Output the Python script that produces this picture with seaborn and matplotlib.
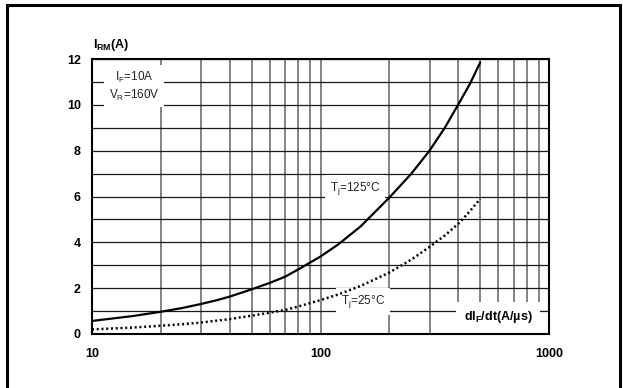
import matplotlib
matplotlib.use("Agg")
import matplotlib.pyplot as plt
import seaborn as sns
from matplotlib.patches import Rectangle
from matplotlib.ticker import FixedLocator, NullFormatter, MultipleLocator

# Reverse recovery current vs. dIF/dt
di_dt = [10, 15, 20, 25, 30, 35, 40, 50, 60, 70, 80, 100, 120, 150, 200,
         250, 300, 350, 400, 450, 500]
irm_tj125 = [0.57, 0.78, 0.97, 1.14, 1.31, 1.47, 1.63, 1.95, 2.23, 2.5, 2.82,
             3.38, 3.92, 4.7, 5.95, 7.0, 8.0, 9.0, 10.0, 10.9, 11.85]
irm_tj25 = [0.2, 0.28, 0.36, 0.43, 0.5, 0.58, 0.65, 0.8, 0.93, 1.05, 1.2,
            1.48, 1.73, 2.1, 2.68, 3.25, 3.8, 4.3, 4.8, 5.35, 5.9]
x_ticks = [10, 100, 1000]
x_minor = [20, 30, 40, 50, 60, 70, 80, 90, 200, 300, 400, 500, 600, 700, 800, 900]
y_ticks = [0, 2, 4, 6, 8, 10, 12]

sns.set_theme(style="white")
plt.rcParams["font.family"] = ["Liberation Sans", "DejaVu Sans"]
plt.rcParams["mathtext.default"] = "regular"

W, H = 623, 388
fig = plt.figure(figsize=(W / 100, H / 100), dpi=100)
fig.patch.set_facecolor("white")

# outer frame of the figure panel
frame = Rectangle((7 / W, -0.05), (620 - 7) / W, 1.05 - 5 / H,
                  transform=fig.transFigure, fill=False, ec="black", lw=2.2,
                  clip_on=False)
fig.patches.append(frame)

ax = fig.add_axes([92 / W, 1 - 334 / H, (549 - 92) / W, (334 - 59) / H])

sns.lineplot(x=di_dt, y=irm_tj125, ax=ax, color="black", lw=1.6, zorder=3)
sns.lineplot(x=di_dt, y=irm_tj25, ax=ax, color="black", lw=1.8,
             linestyle=(0, (0.8, 1.1)), zorder=3)

ax.set_xscale("log")
ax.set_xlim(10, 1000)
ax.set_ylim(0, 12)
ax.xaxis.set_major_locator(FixedLocator(x_ticks))
ax.xaxis.set_minor_locator(FixedLocator(x_minor))
ax.xaxis.set_minor_formatter(NullFormatter())
ax.set_xticklabels([str(v) for v in x_ticks])
ax.yaxis.set_major_locator(FixedLocator(y_ticks))
ax.yaxis.set_minor_locator(MultipleLocator(1))
ax.set_yticklabels([str(v) for v in y_ticks])

ax.set_axisbelow(True)
ax.grid(which="both", axis="x", color="#7a7a7a", lw=1.3)
ax.grid(which="both", axis="y", color="#1a1a1a", lw=0.9)

ax.tick_params(axis="both", which="both", length=0)
ax.tick_params(axis="x", pad=10)
ax.tick_params(axis="y", pad=8)
for lab in ax.get_xticklabels() + ax.get_yticklabels():
    lab.set_fontweight("bold")
    lab.set_fontsize(9)
    lab.set_color("black")

for s in ax.spines.values():
    s.set_visible(True)
    s.set_color("black")
    s.set_linewidth(1.5)

ax.set_xlabel("")
ax.set_ylabel("")

ax.text(0.002, 1.052, "I$_{RM}$(A)", transform=ax.transAxes, ha="left",
        va="center", fontsize=9, fontweight="bold", color="black")

box = dict(boxstyle="square,pad=0.42", fc="white", ec="none")
ax.text(15.3, 10.82, "I$_F$=10A\nV$_R$=160V", ha="center", va="center",
        fontsize=8.5, color="#222222", bbox=box, zorder=2, linespacing=1.25)
ax.text(141.6, 6.37, "T$_j$=125°C", ha="center", va="center", fontsize=8.5,
        color="#222222", bbox=box, zorder=2)
ax.text(153.5, 1.40, "T$_j$=25°C", ha="center", va="center", fontsize=8.5,
        color="#222222", bbox=box, zorder=2)
ax.text(598, 0.74, "dI$_F$/dt(A/µs)", ha="center", va="center", fontsize=9,
        fontweight="bold", color="black",
        bbox=dict(boxstyle="square,pad=0.6", fc="white", ec="none"), zorder=2)

fig.savefig("out.png", dpi=100)
